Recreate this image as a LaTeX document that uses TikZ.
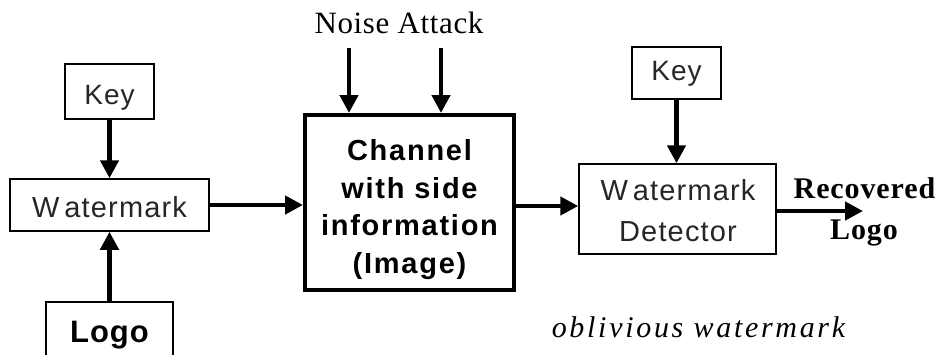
\documentclass[tikz,border=0pt]{standalone}
\usepackage{fontspec}
\setmainfont{Liberation Serif}
\usetikzlibrary{arrows.meta}
% letter-spaced faces used by the block labels
\newfontfamily\boxfont[LetterSpace=4]{Liberation Sans}
\newfontfamily\chanfont[LetterSpace=6]{Liberation Sans}
\newfontfamily\logofont[LetterSpace=3]{Liberation Sans}
\newfontfamily\noisefont[LetterSpace=2]{Liberation Serif}
\newfontfamily\recfont[LetterSpace=3]{Liberation Serif}
\newfontfamily\notefont[LetterSpace=9]{Liberation Serif}

\tikzset{
  box/.style={draw, line width=1.5pt, inner sep=0pt, text depth=0pt},
  boxtext/.style={font=\boxfont\fontsize{28}{32}\selectfont, text=black!85},
  bigbox/.style={draw, line width=4pt, inner sep=0pt},
  flow/.style={line width=4.5pt, -{Triangle[length=18pt,width=18pt]}},
}

\begin{document}
\begin{tikzpicture}[x=1pt,y=-1pt]
\useasboundingbox (0,0) rectangle (941,354);
\clip (0,0) rectangle (941,354);

% embedding side
\node[box, boxtext, minimum width=89pt, minimum height=55pt, text height=26pt]
  (keyL) at (109.5,91.5) {Key};
\node[box, boxtext, font=\boxfont\fontsize{29}{32}\selectfont,
      minimum width=199pt, minimum height=52pt, text height=24pt]
  (wm) at (109.5,205) {W\kern5pt atermark};
\node[box, font=\logofont\bfseries\fontsize{31}{34}\selectfont,
      minimum width=127pt, minimum height=60pt, text height=20pt]
  (logo) at (109.5,332) {Logo};

% channel
\node[bigbox, minimum width=209pt, minimum height=175pt] (chan) at (409.5,202.5) {};
\node[anchor=north, inner sep=0pt, align=center,
      font=\chanfont\bfseries\fontsize{29}{37.5}\selectfont]
  (chantext) at (409.5,139.5) {Channel\\with side\\information\\(Image)};
\node[anchor=base, inner sep=0pt, font=\noisefont\fontsize{31}{34}\selectfont]
  (noise) at (399,33) {Noise Attack};
\coordinate (n1) at (349,48);
\coordinate (n2) at (441,48);

% detection side
\node[box, boxtext, minimum width=89pt, minimum height=52pt, text height=14pt]
  (keyR) at (676.5,73) {Key};
\node[box, minimum width=197pt, minimum height=90pt] (det) at (677.5,209) {};
\node[anchor=south, inner sep=0pt, align=center, text=black!85,
      font=\boxfont\fontsize{29}{41}\selectfont]
  (dettext) at (678,242) {W\kern5pt atermark\\Detector};
\coordinate (out) at (863,211);
\node[anchor=base, inner sep=0pt, font=\recfont\bfseries\fontsize{30}{32}\selectfont]
  (rec) at (864.5,198) {Recovered};
\node[anchor=base, inner sep=0pt, font=\recfont\bfseries\fontsize{30}{32}\selectfont]
  (reclogo) at (864,239) {Logo};
\node[anchor=base, inner sep=0pt, font=\notefont\itshape\fontsize{30}{32}\selectfont]
  (note) at (698.5,337) {oblivious watermark};

% connectors
\draw[flow] (keyL.south) -- (keyL.south |- wm.north);
\draw[flow] (logo.north) -- (logo.north |- wm.south);
\draw[flow] (wm.east) -- (wm.east -| chan.west);
\draw[flow] (n1) -- (n1 |- chan.north);
\draw[flow] (n2) -- (n2 |- chan.north);
\draw[flow] ([yshift=-3.5pt]chan.east) coordinate (c1) -- (c1 -| det.west);
\draw[flow] (keyR.south) -- (keyR.south |- det.north);
\draw[flow] (det.east |- out) -- (out);
\end{tikzpicture}
\end{document}
